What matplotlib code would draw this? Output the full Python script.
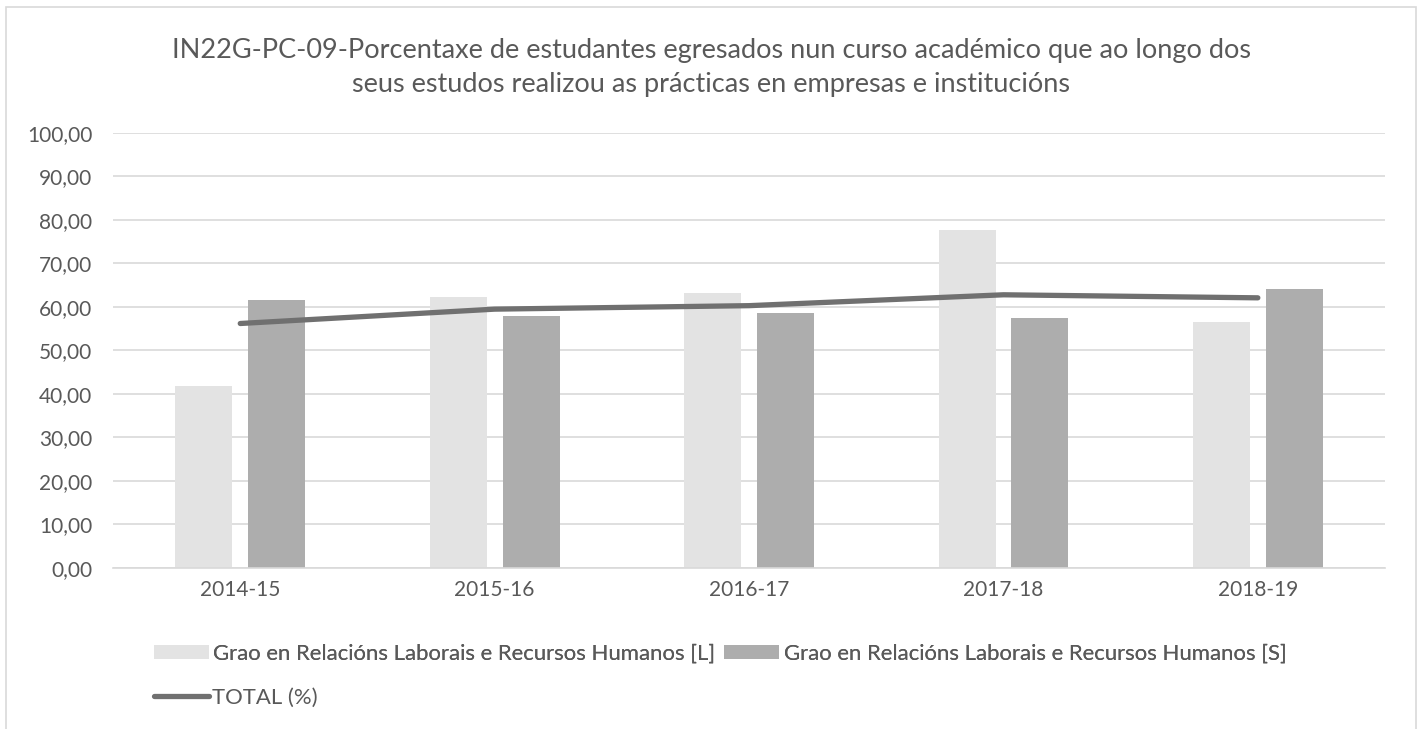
import matplotlib.pyplot as plt
from matplotlib.patches import Rectangle
import numpy as np

plt.rcParams['font.family'] = ['Lato', 'DejaVu Sans']

# data
years = ['2014-15', '2015-16', '2016-17', '2017-18', '2018-19']
grao_l = [41.8, 62.4, 63.2, 77.8, 56.6]
grao_s = [61.7, 57.9, 58.6, 57.5, 64.2]
total = [56.2, 59.5, 60.3, 62.8, 62.1]

label_l = 'Grao en Relacións Laborais e Recursos Humanos [L]'
label_s = 'Grao en Relacións Laborais e Recursos Humanos [S]'
label_t = 'TOTAL (%)'
title = ('IN22G-PC-09-Porcentaxe de estudantes egresados nun curso académico que ao longo dos\n'
         'seus estudos realizou as prácticas en empresas e institucións')

text_col = '#595959'
grid_col = '#d9d9d9'

fig = plt.figure(figsize=(14.22, 7.29), dpi=100)
ax = fig.add_axes([0.0795, 0.2209, 0.8945, 0.5967])

x = np.arange(len(years))
w = 0.224
off = 0.143
b1 = ax.bar(x - off, grao_l, width=w, color='#e3e3e3', label=label_l, zorder=2)
b2 = ax.bar(x + off, grao_s, width=w, color='#adadad', label=label_s, zorder=2)
ln, = ax.plot(x, total, color='#707070', linewidth=3.8, solid_capstyle='round',
              label=label_t, zorder=3)

ax.set_xlim(-0.5, 4.5)
ax.set_ylim(0, 100)
ax.set_yticks(np.arange(0, 101, 10))
ax.set_yticklabels([f'{v:.2f}'.replace('.', ',') for v in range(0, 101, 10)])
ax.set_xticks(x)
ax.set_xticklabels(years)
ax.yaxis.grid(True, color=grid_col, linewidth=1.2, zorder=0)
ax.set_axisbelow(True)
for s in ['top', 'right', 'left']:
    ax.spines[s].set_visible(False)
ax.spines['bottom'].set_color(grid_col)
ax.spines['bottom'].set_linewidth(1.2)
ax.tick_params(axis='both', length=0, labelsize=15, colors=text_col, pad=9)
ax.tick_params(axis='y', pad=15)

fig.text(0.5, 0.908, title, ha='center', va='center', fontsize=19.5,
         color=text_col, linespacing=1.45)

leg1 = fig.legend(handles=[b1, b2], loc='center left', bbox_to_anchor=(0.094, 0.103),
                  ncol=2, frameon=False, fontsize=15.9, handlelength=2.5,
                  handleheight=0.6, handletextpad=0.2, columnspacing=0.4,
                  labelcolor=text_col)
fig.legend(handles=[ln], loc='center left', bbox_to_anchor=(0.094, 0.043),
           frameon=False, fontsize=15.9, handlelength=2.5, handletextpad=0.15,
           labelcolor=text_col)
fig.add_artist(leg1)

# chart area border
fig.add_artist(Rectangle((0.004, -0.01), 0.992, 1.0, transform=fig.transFigure,
                         fill=False, edgecolor='#d9d9d9', linewidth=1.2))

fig.savefig('out.png', dpi=100)
